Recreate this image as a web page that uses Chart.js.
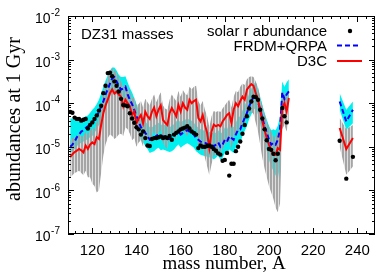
<!DOCTYPE html>
<html>
<head>
<meta charset="utf-8">
<script src="https://cdn.jsdelivr.net/npm/chart.js@4.4.1/dist/chart.umd.min.js"></script>
<style>
  html, body { margin: 0; padding: 0; background: #fff; }
  #wrap { width: 379px; height: 272px; }
</style>
</head>
<body>
<div id="wrap"><canvas id="abund" width="379" height="272"></canvas></div>
<script>
// mass numbers (A) of the main range and of the actinides
var massMain = [110,111,112,113,114,115,116,117,118,119,120,121,122,123,124,125,126,127,128,129,
                130,131,132,133,134,135,136,137,138,139,140,141,142,143,144,145,146,147,148,149,
                150,151,152,153,154,155,156,157,158,159,160,161,162,163,164,165,166,167,168,169,
                170,171,172,173,174,175,176,177,178,179,180,181,182,183,184,185,186,187,188,189,
                190,191,192,193,194,195,196,197,198,199,200,201,202,203,204,205,206,207,208,209];
var massAct = [232, 235, 238];

// all abundances are given as log10
var solarLog = [-4.20,-4.22,-4.33,-4.36,-4.36,-4.40,-4.38,-4.36,-4.58,-4.50,
                -4.44,-4.36,-4.28,-4.17,-4.06,-3.77,-3.60,-3.31,-3.30,-3.38,
                -3.50,-3.60,-3.73,-3.90,-4.04,-4.05,-4.07,-4.23,-4.35,-4.45,
                -4.55,-4.60,-4.72,-4.65,-4.80,-4.97,-4.98,-4.82,-4.80,-4.80,
                -4.78,-4.76,-4.80,-4.78,-4.80,-4.75,-4.84,-4.72,-4.68,-4.65,
                -4.60,-4.58,-4.56,-4.53,-4.58,-4.65,-4.68,-4.72,-5.03,-4.97,
                -5.00,-5.00,-4.98,-4.97,-5.00,-5.05,-5.09,-5.15,-5.18,-5.32,
                -5.30,-5.14,-5.66,-5.39,-5.39,-5.10,-5.00,-4.88,-4.70,-4.50,
                -4.30,-4.12,-3.96,-3.85,-3.86,-3.92,-4.15,-4.35,-4.60,-4.85,
                -5.05,-5.07,-5.16,-5.31,-5.16,null,-4.11,-4.30,-4.44,null];
var solarActLog = [-4.86, -5.73, -5.23];

var frdmLog = [-5.00,-4.95,-4.88,-4.78,-4.72,-4.65,-4.62,-4.57,-4.53,-4.49,
               -4.45,-4.38,-4.30,-4.20,-4.08,-3.96,-3.80,-3.68,-3.55,-3.43,
               -3.40,-3.50,-3.60,-3.69,-3.66,-3.62,-3.80,-3.92,-4.02,-4.15,
               -4.30,-4.42,-4.55,-4.60,-4.68,-4.75,-4.84,-4.82,-4.80,-4.75,
               -4.72,-4.78,-4.76,-4.78,-4.80,-4.82,-4.80,-4.76,-4.70,-4.65,
               -4.72,-4.68,-4.65,-4.62,-4.65,-4.68,-4.72,-4.80,-4.84,-4.88,
               -4.90,-4.91,-4.93,-4.94,-4.95,-4.99,-4.95,-4.90,-5.00,-4.95,
               -4.84,-4.88,-4.76,-4.80,-4.84,-4.72,-4.61,-4.60,-4.46,-4.34,
               -4.23,-4.07,-3.96,-3.85,-3.81,-3.96,-4.15,-4.34,-4.53,-4.68,
               -4.84,-4.95,-4.91,-4.95,-4.84,-4.60,-3.75,-3.90,-3.80,-3.73];
var frdmActLog = [-3.96, -4.42, -4.15];

var frdmHiLog = [-4.35,-4.35,-4.38,-4.38,-4.36,-4.35,-4.33,-4.30,-4.28,-4.22,
                 -4.15,-4.10,-4.02,-3.92,-3.78,-3.62,-3.48,-3.36,-3.25,-3.18,
                 -3.18,-3.25,-3.35,-3.40,-3.40,-3.38,-3.52,-3.65,-3.75,-3.88,
                 -4.02,-4.15,-4.28,-4.35,-4.42,-4.48,-4.55,-4.55,-4.52,-4.48,
                 -4.45,-4.50,-4.48,-4.50,-4.52,-4.55,-4.52,-4.48,-4.42,-4.38,
                 -4.45,-4.40,-4.38,-4.35,-4.38,-4.40,-4.45,-4.52,-4.56,-4.60,
                 -4.62,-4.63,-4.65,-4.66,-4.67,-4.70,-4.67,-4.62,-4.70,-4.66,
                 -4.56,-4.60,-4.48,-4.52,-4.55,-4.44,-4.33,-4.30,-4.17,-4.05,
                 -3.93,-3.78,-3.66,-3.56,-3.52,-3.66,-3.85,-4.04,-4.22,-4.38,
                 -4.52,-4.62,-4.60,-4.62,-4.52,-4.30,-3.50,-3.62,-3.52,-3.45];
var frdmHiActLog = [-3.77, -4.15, -3.96];

var frdmLoLog = [-5.15,-5.10,-5.05,-4.98,-4.95,-4.90,-4.88,-4.85,-4.82,-4.78,
                 -4.75,-4.68,-4.60,-4.50,-4.38,-4.26,-4.10,-3.98,-3.85,-3.73,
                 -3.70,-3.80,-3.90,-3.99,-3.96,-3.92,-4.10,-4.22,-4.32,-4.45,
                 -4.60,-4.72,-4.85,-4.90,-4.98,-5.05,-5.14,-5.12,-5.10,-5.05,
                 -5.02,-5.08,-5.06,-5.08,-5.10,-5.12,-5.10,-5.06,-5.00,-4.95,
                 -5.02,-4.98,-4.95,-4.92,-4.95,-4.98,-5.02,-5.10,-5.14,-5.18,
                 -5.20,-5.21,-5.23,-5.24,-5.25,-5.29,-5.25,-5.20,-5.30,-5.25,
                 -5.14,-5.18,-5.06,-5.10,-5.14,-5.02,-4.91,-4.90,-4.76,-4.64,
                 -4.53,-4.37,-4.26,-4.15,-4.11,-4.26,-4.48,-4.70,-4.92,-5.10,
                 -5.30,-5.45,-5.55,-5.65,-5.75,-5.40,-4.05,-4.18,-4.10,-4.02];
var frdmLoActLog = [-4.15, -4.61, -4.46];

var d3cLog = [-5.24,-5.17,-5.12,-5.09,-5.05,-5.08,-5.13,-4.97,-5.05,-4.95,
              -4.90,-4.94,-4.78,-4.82,-4.50,-4.23,-4.05,-3.92,-3.77,-3.68,
              -3.78,-3.73,-3.80,-3.85,-4.07,-3.92,-4.00,-4.07,-4.27,-4.19,
              -4.46,-4.35,-4.27,-4.46,-4.20,-4.30,-4.36,-4.20,-4.10,-4.30,
              -4.15,-4.05,-4.38,-4.45,-4.50,-4.23,-4.11,-4.20,-4.30,-4.04,
              -4.19,-4.00,-4.10,-4.15,-3.92,-4.00,-3.95,-3.92,-4.34,-4.42,
              -4.27,-4.50,-4.68,-5.03,-4.65,-4.49,-4.53,-4.50,-4.53,-4.42,
              -4.35,-4.27,-4.23,-4.46,-4.15,-4.00,-4.07,-3.95,-3.85,-3.92,
              -3.69,-3.62,-3.56,-3.60,-3.77,-3.92,-4.15,-4.42,-4.61,-4.80,
              -4.95,-5.07,-5.18,-5.18,-5.03,-5.07,-4.11,-4.00,-4.19,-3.88];
var d3cActLog = [-4.57, -5.05, -4.80];

var d3cHiLog = [-4.85,-4.80,-4.78,-4.75,-4.72,-4.75,-4.75,-4.65,-4.70,-4.62,
                -4.58,-4.58,-4.45,-4.30,-4.00,-3.75,-3.55,-3.40,-3.25,-3.20,
                -3.25,-3.30,-3.40,-3.50,-3.62,-3.55,-3.65,-3.72,-3.90,-3.85,
                -4.05,-4.02,-3.95,-4.10,-3.90,-3.98,-4.05,-3.90,-3.80,-3.98,
                -3.85,-3.75,-4.05,-4.12,-4.15,-3.92,-3.80,-3.88,-3.95,-3.72,
                -3.85,-3.70,-3.78,-3.82,-3.62,-3.68,-3.62,-3.60,-3.95,-4.05,
                -3.95,-4.15,-4.30,-4.55,-4.30,-4.18,-4.20,-4.18,-4.20,-4.12,
                -4.05,-3.98,-3.92,-4.10,-3.85,-3.72,-3.75,-3.62,-3.55,-3.58,
                -3.45,-3.40,-3.38,-3.40,-3.50,-3.62,-3.85,-4.05,-4.25,-4.40,
                -4.55,-4.65,-4.75,-4.78,-4.65,-4.60,-3.80,-3.72,-3.85,-3.65];
var d3cHiActLog = [-4.34, -4.60, -4.50];

var d3cLoLog = [-5.70,-5.65,-5.60,-5.58,-5.55,-5.60,-5.65,-5.55,-5.70,-5.70,
                -5.85,-5.90,-6.05,-6.00,-5.60,-5.20,-4.95,-4.80,-4.72,-4.75,
                -4.82,-4.78,-4.72,-4.70,-4.75,-4.55,-4.60,-4.70,-4.85,-4.80,
                -5.00,-4.90,-4.85,-5.00,-4.75,-4.85,-4.90,-4.75,-4.65,-4.85,
                -4.70,-4.62,-4.90,-5.00,-5.05,-4.80,-4.68,-4.75,-4.85,-4.62,
                -4.75,-4.60,-4.70,-4.75,-4.55,-4.62,-4.60,-4.62,-5.00,-5.10,
                -5.00,-5.25,-5.45,-5.65,-5.40,-5.20,-5.20,-5.15,-5.15,-5.05,
                -4.95,-4.90,-4.85,-5.05,-4.80,-4.65,-4.70,-4.55,-4.45,-4.50,
                -4.30,-4.25,-4.20,-4.25,-4.45,-4.65,-4.95,-5.25,-5.50,-5.70,
                -5.90,-6.05,-6.20,-6.40,-6.50,-6.30,-4.60,-4.50,-4.65,-4.40];
var d3cLoActLog = [-5.00, -5.64, -5.45];

// axes
var xMin = 109, xMax = 248;
var xTicks = [120, 140, 160, 180, 200, 220, 240];
var yExpTicks = [-7, -6, -5, -4, -3, -2];
var legendLabels = ['solar r abundance', 'FRDM+QRPA', 'D3C'];

function pts(xs, logs) {
    return xs.map(function(x, i) {
        return { x: x, y: logs[i] === null ? null : Math.pow(10, logs[i]) };
    });
}
function series(main, act) {
    return pts(massMain, main).concat([{ x: 220, y: null }], pts(massAct, act));
}

// striped grey fill, like the hatched band of the original
function stripes() {
    var c = document.createElement('canvas');
    c.width = 3; c.height = 4;
    var g = c.getContext('2d');
    g.fillStyle = 'rgba(160,160,160,0.95)';
    g.fillRect(0, 0, 2, 4);
    g.fillStyle = 'rgba(185,185,185,0.45)';
    g.fillRect(2, 0, 1, 4);
    return g.createPattern(c, 'repeat');
}
var GRAY = stripes();
var CYAN = '#00f0f0';

var datasets = [];
datasets[0] = { // solar r dots
    data: series(solarLog, solarActLog), showLine: false,
    pointRadius: 2.2, pointBackgroundColor: '#000', pointBorderWidth: 0, order: 0
};
datasets[1] = { // D3C
    data: series(d3cLog, d3cActLog), borderColor: '#ff0000', borderWidth: 2,
    pointRadius: 0, fill: false, order: 1
};
datasets[2] = { // FRDM+QRPA
    data: series(frdmLog, frdmActLog), borderColor: '#0000ff', borderWidth: 2,
    borderDash: [5, 3], pointRadius: 0, fill: false, order: 2
};
datasets[3] = { // D3C band top
    data: series(d3cHiLog, d3cHiActLog), borderWidth: 0, pointRadius: 0,
    backgroundColor: GRAY, fill: 4, order: 3
};
datasets[4] = { // D3C band bottom
    data: series(d3cLoLog, d3cLoActLog), borderWidth: 0, pointRadius: 0, fill: false, order: 3
};
datasets[5] = { // FRDM band top
    data: series(frdmHiLog, frdmHiActLog), borderWidth: 0, pointRadius: 0,
    backgroundColor: CYAN, fill: 6, order: 4
};
datasets[6] = { // FRDM band bottom
    data: series(frdmLoLog, frdmLoActLog), borderWidth: 0, pointRadius: 0, fill: false, order: 4
};

var SANS = '"Liberation Sans", Arial, sans-serif';
var SERIF = '"Liberation Serif", "Times New Roman", serif';

var frame = {
    id: 'frame',
    afterDraw: function(chart) {
        var ctx = chart.ctx, a = chart.chartArea;
        var x = chart.scales.x, y = chart.scales.y;
        ctx.save();
        ctx.strokeStyle = '#000';
        ctx.lineWidth = 1;
        ctx.strokeRect(a.left + 0.5, a.top + 0.5, a.right - a.left - 1, a.bottom - a.top - 1);

        // x ticks, inward on bottom and top
        ctx.beginPath();
        for (var v = 112; v < xMax; v += 4) {
            var px = Math.round(x.getPixelForValue(v)) + 0.5;
            var len = (v % 20 == 0) ? 6 : 3;
            ctx.moveTo(px, a.bottom); ctx.lineTo(px, a.bottom - len);
            ctx.moveTo(px, a.top); ctx.lineTo(px, a.top + len);
        }
        // y ticks, log minors
        for (var e = -7; e <= -2; e++) {
            for (var m = 1; m <= 9; m++) {
                if (e == -2 && m > 1) break;
                var py = Math.round(y.getPixelForValue(m * Math.pow(10, e))) + 0.5;
                var l = (m == 1) ? 6 : 3;
                ctx.moveTo(a.left, py); ctx.lineTo(a.left + l, py);
                ctx.moveTo(a.right, py); ctx.lineTo(a.right - l, py);
            }
        }
        ctx.stroke();

        // tick labels
        ctx.fillStyle = '#000';
        ctx.font = '15px ' + SANS;
        ctx.textAlign = 'center';
        ctx.textBaseline = 'middle';
        xTicks.forEach(function(t) {
            ctx.fillText(String(t), x.getPixelForValue(t), 251);
        });
        yExpTicks.forEach(function(t) {
            var py = y.getPixelForValue(Math.pow(10, t));
            var sup = String(t);
            ctx.font = '10px ' + SANS;
            var sw = ctx.measureText(sup).width;
            ctx.textAlign = 'right';
            ctx.fillText(sup, 60, py - 2.5);
            ctx.font = '14px ' + SANS;
            ctx.fillText('10', 60 - sw - 0.5, py + 3.5);
        });

        // axis titles
        ctx.font = '19px ' + SERIF;
        ctx.textAlign = 'center';
        ctx.textBaseline = 'alphabetic';
        ctx.fillText('mass number, A', 224, 269);
        ctx.save();
        ctx.translate(20, 119);
        ctx.rotate(-Math.PI / 2);
        ctx.font = '20px ' + SERIF;
        ctx.fillText('abundances at 1 Gyr', 0, 0);
        ctx.restore();

        // label
        ctx.font = '15px ' + SANS;
        ctx.textAlign = 'left';
        ctx.fillText('DZ31 masses', 81, 39);

        // legend
        ctx.textAlign = 'right';
        var rows = [36, 50.5, 66];
        legendLabels.forEach(function(t, i) { ctx.fillText(t, 327, rows[i]); });
        ctx.beginPath();
        ctx.arc(350, 31, 2.2, 0, 2 * Math.PI);
        ctx.fill();
        ctx.lineWidth = 2;
        ctx.strokeStyle = '#0000ff';
        ctx.setLineDash([5, 3]);
        ctx.beginPath(); ctx.moveTo(337, 45.5); ctx.lineTo(361, 45.5); ctx.stroke();
        ctx.setLineDash([]);
        ctx.strokeStyle = '#ff0000';
        ctx.beginPath(); ctx.moveTo(337, 61); ctx.lineTo(362, 61); ctx.stroke();
        ctx.restore();
    }
};

var abundChart = new Chart(document.getElementById('abund').getContext('2d'), {
    type: 'line',
    data: { datasets: datasets },
    options: {
        responsive: false,
        animation: false,
        devicePixelRatio: 1,
        layout: { padding: { top: 16, right: 2, left: 0, bottom: 0 } },
        plugins: { legend: { display: false }, tooltip: { enabled: false } },
        elements: { line: { tension: 0 } },
        scales: {
            x: {
                type: 'linear', min: xMin, max: xMax,
                ticks: { display: false }, grid: { display: false }, border: { display: false },
                afterFit: function(s) { s.height = 38; }
            },
            y: {
                type: 'logarithmic', min: 1e-7, max: 1e-2,
                ticks: { display: false }, grid: { display: false }, border: { display: false },
                afterFit: function(s) { s.width = 68; }
            }
        }
    },
    plugins: [frame]
});
</script>
</body>
</html>
